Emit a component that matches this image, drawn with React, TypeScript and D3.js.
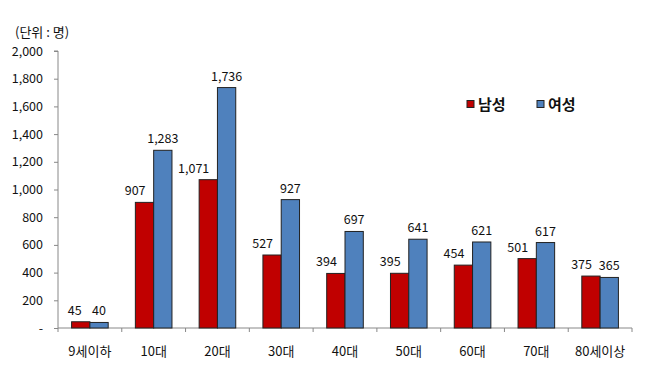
import React, { useEffect, useRef } from 'react';
import * as d3 from 'd3';

const categories = ['9세이하', '10대', '20대', '30대', '40대', '50대', '60대', '70대', '80세이상'];
const male = [45, 907, 1071, 527, 394, 395, 454, 501, 375];
const female = [40, 1283, 1736, 927, 697, 641, 621, 617, 365];
const seriesNames = ['남성', '여성'];
const yTicks = [0, 200, 400, 600, 800, 1000, 1200, 1400, 1600, 1800, 2000];

const FONT = '"Noto Sans CJK KR", "Noto Sans", sans-serif';
const colors = ['#C00000', '#4F81BD'];

const App = () => {
    const ref = useRef<SVGSVGElement | null>(null);

    useEffect(() => {
        if (ref.current) draw();
    }, []);

    const draw = () => {
        const svg = d3.select(ref.current);
        svg.selectAll('*').remove();

        const left = 58;
        const right = 632;
        const top = 51;
        const bottom = 328;

        const x = d3.scaleBand().domain(categories).range([left, right]).paddingInner(0).paddingOuter(0);
        const y = d3.scaleLinear().domain([0, 2000]).range([bottom, top]);
        const barW = 18.3;

        svg.append('rect').attr('width', 659).attr('height', 387).attr('fill', '#fff');

        // unit label
        svg.append('text')
            .attr('x', 15).attr('y', 37)
            .attr('font-family', FONT).attr('font-size', 13).attr('fill', '#111')
            .text('(단위 : 명)');

        // y axis
        const yAxis = d3.axisLeft(y)
            .tickValues(yTicks)
            .tickSize(4)
            .tickPadding(11)
            .tickFormat(d => (+d === 0 ? '-' : d3.format(',')(+d)));
        const ya = svg.append('g').attr('transform', `translate(${left},0)`).call(yAxis);
        ya.select('.domain').attr('stroke', '#888').attr('d', `M-4,${top}H0V${bottom}`);
        ya.selectAll('.tick line').attr('stroke', '#888');
        ya.selectAll('.tick text')
            .attr('font-family', FONT).attr('font-size', 12.5).attr('fill', '#111');

        // x axis
        const xa = svg.append('g').attr('transform', `translate(0,${bottom})`);
        xa.append('line').attr('x1', left).attr('x2', right).attr('stroke', '#888');
        const edges = categories.map(c => x(c)!).concat([right]);
        xa.selectAll('line.tk').data(edges).enter().append('line')
            .attr('class', 'tk')
            .attr('x1', d => d).attr('x2', d => d)
            .attr('y1', 0).attr('y2', 4)
            .attr('stroke', '#888');
        xa.selectAll('text').data(categories).enter().append('text')
            .attr('x', d => x(d)! + x.bandwidth() / 2)
            .attr('y', 28)
            .attr('text-anchor', 'middle')
            .attr('font-family', FONT).attr('font-size', 13).attr('fill', '#111')
            .text(d => d);

        // bars
        const series = [male, female];
        series.forEach((vals, s) => {
            const g = svg.append('g');
            g.selectAll('rect').data(vals).enter().append('rect')
                .attr('x', (d, i) => x(categories[i])! + x.bandwidth() / 2 - barW + s * barW)
                .attr('y', d => y(d))
                .attr('width', barW)
                .attr('height', d => bottom - y(d))
                .attr('fill', colors[s])
                .attr('stroke', '#222')
                .attr('stroke-width', 1);
            g.selectAll('text').data(vals).enter().append('text')
                .attr('x', (d, i) => {
                    const cx = x(categories[i])! + x.bandwidth() / 2 - barW / 2 + s * barW;
                    return s === 0 ? cx + 1 : cx;
                })
                .attr('y', d => y(d) - 7)
                .attr('text-anchor', s === 0 ? 'end' : 'middle')
                .attr('font-family', FONT).attr('font-size', 12.5).attr('fill', '#111')
                .text(d => d3.format(',')(d));
        });

        // legend
        const legend = svg.append('g');
        const lx = [467, 537];
        seriesNames.forEach((name, i) => {
            legend.append('rect')
                .attr('x', lx[i]).attr('y', 100.5)
                .attr('width', 7).attr('height', 7)
                .attr('fill', colors[i]).attr('stroke', '#222');
            legend.append('text')
                .attr('x', lx[i] + 11).attr('y', 110)
                .attr('font-family', FONT).attr('font-size', 15).attr('font-weight', 'bold').attr('fill', '#111')
                .text(name);
        });
    };

    return (
        <svg
            ref={ref}
            width={659}
            height={387}
            style={{ position: 'absolute', left: 0, top: 0, display: 'block' }}
        />
    );
};

export default App;
